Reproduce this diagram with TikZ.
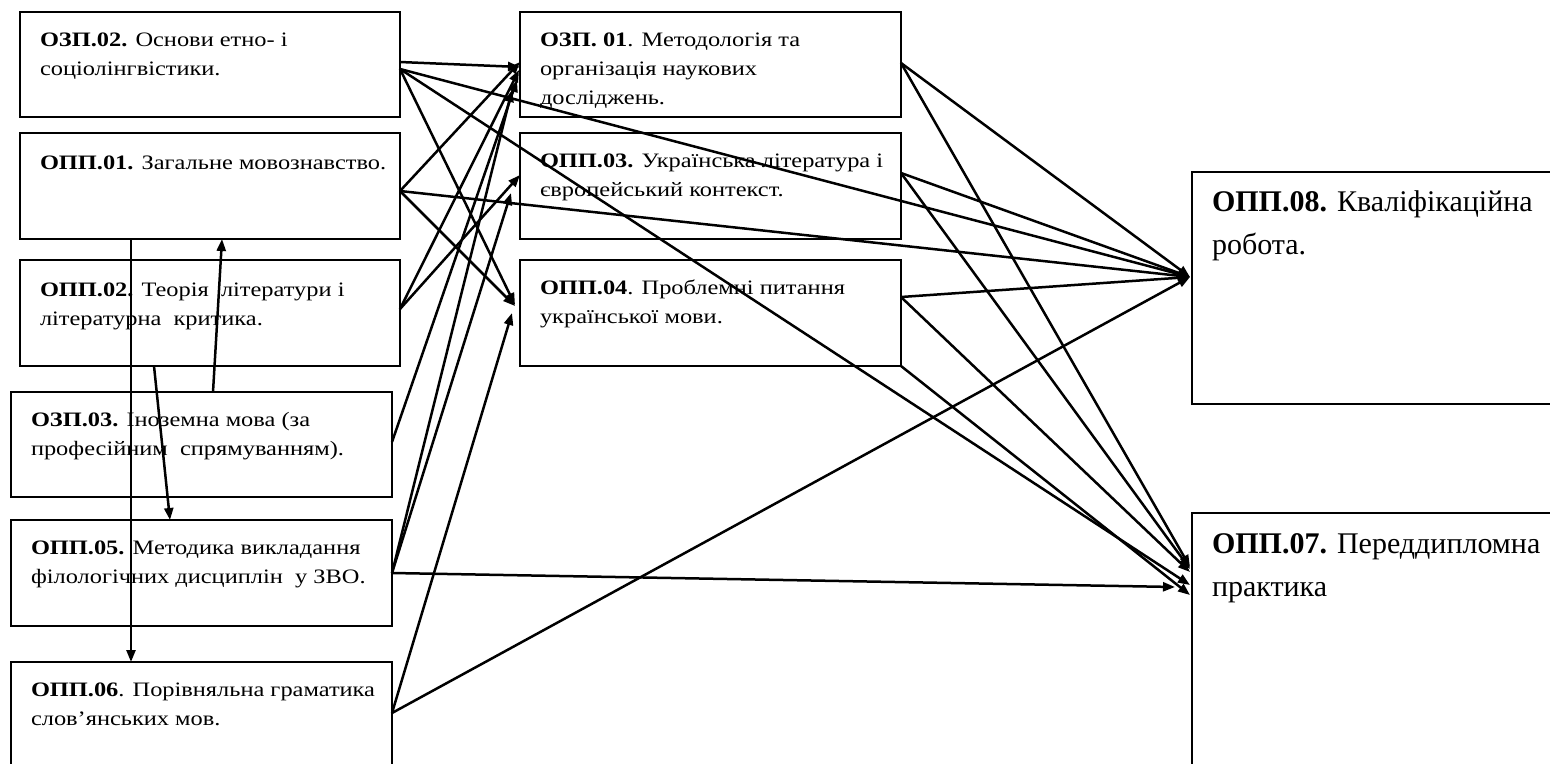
\documentclass[tikz,border=0pt]{standalone}
\usepackage{fontspec}
\setmainfont{Liberation Serif}
\newfontfamily\widefont{Liberation Serif}[FakeStretch=1.19]
\usetikzlibrary{arrows.meta}
\begin{document}
\begin{tikzpicture}[x=1pt,y=-1pt,
  box/.style={draw=black, line width=1.8pt, inner sep=0pt, outer sep=0pt},
  txt/.style={anchor=north west, inner sep=0pt, outer sep=0pt, align=left, font=\widefont\fontsize{20.5}{29}\selectfont},
  bigtxt/.style={anchor=north west, inner sep=0pt, outer sep=0pt, align=left, font=\fontsize{30}{43}\selectfont},
  con/.style={line width=2.5pt, -{Triangle[length=12pt,width=9pt]}}
]
\useasboundingbox (0,0) rectangle (1550,763);
\clip (0,0) rectangle (1550,763);
% left column
\node[box, minimum width=380pt, minimum height=105pt] (B1) at (210,64.5) {};
\node[box, minimum width=380pt, minimum height=106pt] (B2) at (210,186) {};
\node[box, minimum width=380pt, minimum height=106pt] (B3) at (210,313) {};
\node[box, minimum width=381pt, minimum height=105pt] (B4) at (201.5,444.5) {};
\node[box, minimum width=381pt, minimum height=106pt] (B5) at (201.5,573) {};
\node[box, minimum width=381pt, minimum height=144pt] (B6) at (201.5,734) {};
% middle column
\node[box, minimum width=381pt, minimum height=105pt] (M1) at (710.5,64.5) {};
\node[box, minimum width=381pt, minimum height=106pt] (M2) at (710.5,186) {};
\node[box, minimum width=381pt, minimum height=106pt] (M3) at (710.5,313) {};
% right column
\node[box, minimum width=368pt, minimum height=232pt] (R1) at (1376,288) {};
\node[box, minimum width=368pt, minimum height=293pt] (R2) at (1376,659.5) {};
% texts
\node[txt] (tB1) at ([xshift=20pt,yshift=-14pt]B1.north west) {\strut\textbf{ОЗП.02.} Основи етно- і\\соціолінгвістики.};
\node[txt] (tB2) at ([xshift=20pt,yshift=-16pt]B2.north west) {\strut\textbf{ОПП.01.} Загальне мовознавство.};
\node[txt] (tB3) at ([xshift=20pt,yshift=-16pt]B3.north west) {\strut\textbf{ОПП.02.} Теорія \ літератури і\\літературна \ критика.};
\node[txt] (tB4) at ([xshift=20pt,yshift=-14pt]B4.north west) {\strut\textbf{ОЗП.03.} Іноземна мова (за\\професійним \ спрямуванням).};
\node[txt] (tB5) at ([xshift=20pt,yshift=-14pt]B5.north west) {\strut\textbf{ОПП.05.} Методика викладання\\філологічних дисциплін \ у ЗВО.};
\node[txt] (tB6) at ([xshift=20pt,yshift=-14pt]B6.north west) {\strut\textbf{ОПП.06}. Порівняльна граматика\\слов’янських мов.};
\node[txt] (tM1) at ([xshift=20pt,yshift=-14pt]M1.north west) {\strut\textbf{ОЗП. 01}. Методологія та\\організація наукових\\досліджень.};
\node[txt] (tM2) at ([xshift=20pt,yshift=-14pt]M2.north west) {\strut\textbf{ОПП.03.} Українська література і\\європейський контекст.};
\node[txt] (tM3) at ([xshift=20pt,yshift=-14pt]M3.north west) {\strut\textbf{ОПП.04}. Проблемні питання\\української мови.};
\node[bigtxt] (tR1) at ([xshift=20pt,yshift=-9pt]R1.north west) {\strut\textbf{ОПП.08.} Кваліфікаційна\\робота.};
\node[bigtxt] (tR2) at ([xshift=20pt,yshift=-10pt]R2.north west) {\strut\textbf{ОПП.07.} Переддипломна\\практика};
% connectors into M1
\draw[con] ([yshift=2.5pt]B1.east) -- ([yshift=-2.5pt]M1.west);
\draw[con] ([yshift=-5pt]B2.east) -- ([yshift=2.5pt]M1.west);
\draw[con] ([yshift=4pt]B3.east) -- ([xshift=-1pt,yshift=-5.5pt]M1.west);
\draw[con] ([yshift=2.5pt]B4.east) -- ([xshift=-3pt,yshift=-15.5pt]M1.west);
\draw[con] (B5.east) -- ([xshift=-8pt,yshift=-25.5pt]M1.west);
% into M2
\draw[con] ([yshift=4pt]B3.east) -- ([yshift=11pt]M2.west);
\draw[con] (B5.east) -- ([xshift=-9pt,yshift=-7pt]M2.west);
% into M3
\draw[con] ([yshift=-4.5pt]B1.east) -- ([xshift=-5pt,yshift=8pt]M3.west);
\draw[con] ([yshift=-5pt]B2.east) -- ([xshift=-5pt,yshift=7pt]M3.west);
\draw[con] ([yshift=21pt]B6.east) -- ([xshift=-8pt]M3.west);
% into R1
\draw[con] ([yshift=-4.5pt]B1.east) -- ([xshift=-2pt,yshift=11pt]R1.west);
\draw[con] ([yshift=-5pt]B2.east) -- ([xshift=-2pt,yshift=11pt]R1.west);
\draw[con] ([yshift=21pt]B6.east) -- ([xshift=-2pt,yshift=11pt]R1.west);
\draw[con] ([yshift=1.5pt]M1.east) -- ([xshift=-2pt,yshift=11pt]R1.west);
\draw[con] ([yshift=13pt]M2.east) -- ([xshift=-2pt,yshift=11pt]R1.west);
\draw[con] ([yshift=16pt]M3.east) -- ([xshift=-2pt,yshift=11pt]R1.west);
% into R2
\draw[con] ([yshift=-4.5pt]B1.east) -- ([xshift=-2pt,yshift=74.5pt]R2.west);
\draw[con] ([yshift=1.5pt]M1.east) -- ([xshift=-2pt,yshift=92.5pt]R2.west);
\draw[con] ([yshift=13pt]M2.east) -- ([xshift=-2pt,yshift=90.5pt]R2.west);
\draw[con] ([yshift=16pt]M3.east) -- ([xshift=-2pt,yshift=87.5pt]R2.west);
\draw[con] (M3.south east) -- ([xshift=-2pt,yshift=64.5pt]R2.west);
\draw[con] (B5.east) -- ([xshift=-17pt,yshift=72.5pt]R2.west);
% vertical links
\draw[con] ([xshift=-79pt]B2.south) -- ([xshift=-70.5pt]B6.north);
\draw[con] ([xshift=11.5pt]B4.north) -- ([xshift=12pt]B2.south);
\draw[con] ([xshift=-56pt]B3.south) -- ([xshift=-31.5pt]B5.north);
\end{tikzpicture}
\end{document}
